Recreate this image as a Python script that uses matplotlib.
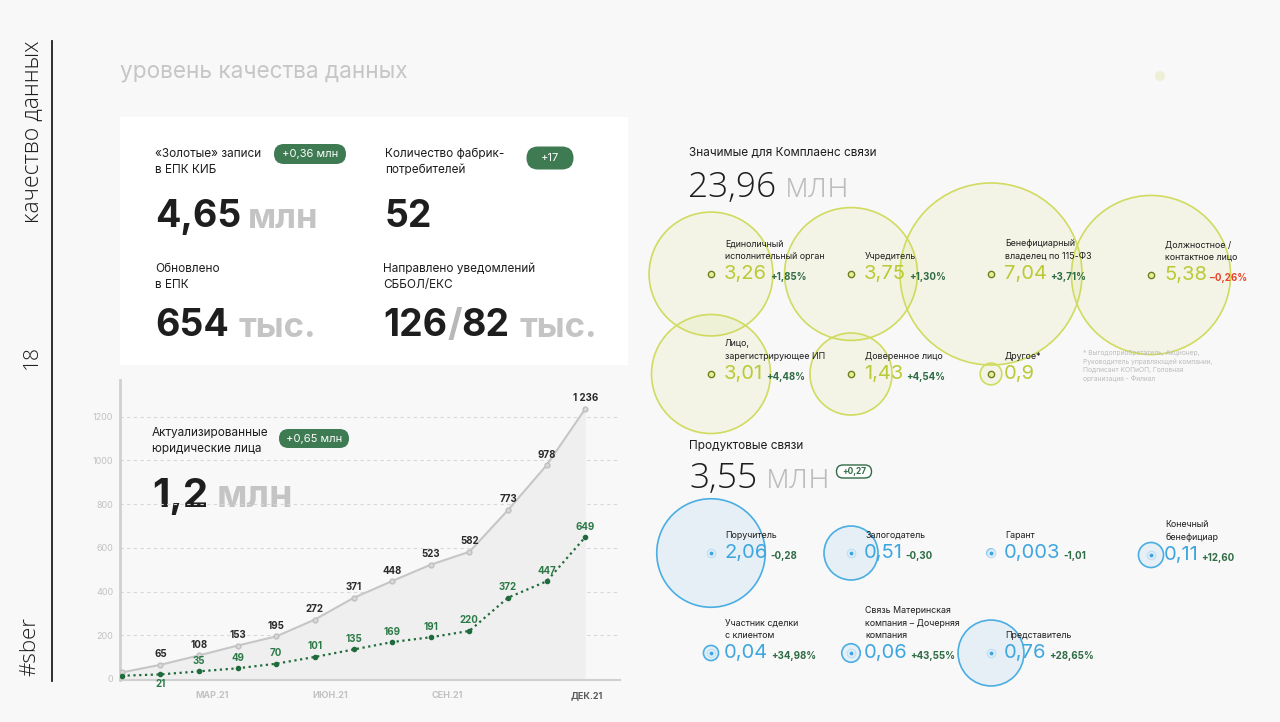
import numpy as np
import matplotlib
matplotlib.use('Agg')
import matplotlib.pyplot as plt
from matplotlib.patches import Circle, Rectangle, FancyBboxPatch

plt.rcParams['font.family'] = ['Inter', 'DejaVu Sans']
THIN = ['Open Sans', 'DejaVu Sans']

# --- data -------------------------------------------------------------
months = list(range(13))
total_legal = [30, 65, 108, 153, 195, 272, 371, 448, 523, 582, 773, 978, 1236]
dq_process = [15, 21, 35, 49, 70, 101, 135, 169, 191, 220, 372, 447, 649]
month_ticks = [2.34, 5.4, 8.43, 12.03]
month_labels = ['МАР.21', 'ИЮН.21', 'СЕН.21', 'ДЕК.21']

compl_labels = ['Единоличный\nисполнительный орган', 'Учредитель',
                'Бенефициарный\nвладелец по 115-ФЗ', 'Должностное /\nконтактное лицо',
                'Лицо,\nзарегистрирующее ИП', 'Доверенное лицо', 'Другое*']
compl_values = [3.26, 3.75, 7.04, 5.38, 3.01, 1.43, 0.9]
compl_sizes = [3.26, 3.75, 7.04, 5.38, 3.01, 1.43, 0.1]  # circle areas as drawn
compl_changes = ['+1,85%', '+1,30%', '+3,71%', '–0,26%', '+4,48%', '+4,54%', '']

prod_labels = ['Поручитель', 'Залогодатель', 'Гарант', 'Конечный\nбенефициар',
               'Участник сделки\nс клиентом', 'Связь Материнская\nкомпания – Дочерняя\nкомпания',
               'Представитель']
prod_values = [2.06, 0.51, 0.003, 0.11, 0.04, 0.06, 0.76]
prod_changes = ['-0,28', '-0,30', '-1,01', '+12,60', '+34,98%', '+43,55%', '+28,65%']

BG = '#f8f8f8'
DARK = '#1e1e1e'
GREY = '#c4c4c4'
GREEN = '#2f6b45'
PILL = '#3e7a52'
LIME_TXT = '#b9ca36'
BLUE_TXT = '#3ea6df'

fig = plt.figure(figsize=(12.8, 7.22), dpi=100, facecolor=BG)
ax0 = fig.add_axes([0, 0, 1, 1])
ax0.set_xlim(0, 1280)
ax0.set_ylim(722, 0)
ax0.axis('off')


def chain(prev, s, color, gap=4, size=27, weight='bold', family=None, dy=0, va='bottom', yfrac=0):
    return ax0.annotate(s, xy=(1, yfrac), xycoords=prev, xytext=(gap, dy), textcoords='offset points',
                        va=va, ha='left', fontsize=size, color=color, fontweight=weight,
                        family=family or plt.rcParams['font.family'])


def pill(cx, cy, w, h, text, size=7.5, filled=True):
    fc = PILL if filled else 'white'
    ec = 'none' if filled else GREEN
    ax0.add_patch(FancyBboxPatch((cx - w / 2, cy - h / 2), w, h, boxstyle=f'round,pad=0,rounding_size={h / 2}',
                                 fc=fc, ec=ec, lw=1, zorder=5))
    ax0.text(cx, cy, text, ha='center', va='center', fontsize=size, color='white' if filled else GREEN,
             fontweight='normal' if filled else 'bold', zorder=6)


# --- left side band ---------------------------------------------------
ax0.plot([52, 52], [41, 681], color=DARK, lw=1.3)
ax0.text(32, 132, 'качество данных', rotation=90, ha='center', va='center', fontsize=16.5,
         family=THIN, fontweight='light', color=DARK)
ax0.text(32, 357, '18', rotation=90, ha='center', va='center', fontsize=15, family=THIN,
         fontweight='light', color=DARK)
ax0.text(30, 647, '#sber', rotation=90, ha='center', va='center', fontsize=16, family=THIN,
         fontweight='light', color=DARK)

ax0.text(120, 72, 'уровень качества данных', ha='left', va='center', fontsize=16.3, color='#c6c6c6')
ax0.add_patch(Circle((1160, 76), 5, color='#eef0d6', lw=0))

# --- KPI card ---------------------------------------------------------
ax0.add_patch(Rectangle((120, 117), 508, 248, fc='white', ec='none'))
ax0.text(155, 162, '«Золотые» записи\nв ЕПК КИБ', ha='left', va='center', fontsize=8.5,
         color=DARK, linespacing=1.55)
pill(310, 154, 72, 20, '+0,36 млн', size=8)
t = ax0.text(155, 227, '4,65', ha='left', va='baseline', fontsize=27, fontweight='bold', color=DARK)
chain(t, 'млн', GREY, gap=5, size=25)

ax0.text(385, 162, 'Количество фабрик-\nпотребителей', ha='left', va='center', fontsize=8.5,
         color=DARK, linespacing=1.55)
pill(550, 158, 47, 23, '+17', size=8)
ax0.text(385, 227, '52', ha='left', va='baseline', fontsize=27, fontweight='bold', color=DARK)

ax0.text(155, 277, 'Обновлено\nв ЕПК', ha='left', va='center', fontsize=8.5, color=DARK, linespacing=1.55)
t = ax0.text(155, 336, '654', ha='left', va='baseline', fontsize=27, fontweight='bold', color=DARK)
chain(t, 'тыс.', GREY, gap=7, size=25)

ax0.text(383, 277, 'Направлено уведомлений\nСББОЛ/ЕКС', ha='left', va='center', fontsize=8.5,
         color=DARK, linespacing=1.55)
t = ax0.text(383, 336, '126', ha='left', va='baseline', fontsize=27, fontweight='bold', color=DARK)
t = chain(t, '/', '#b8b8b8', gap=0)
t = chain(t, '82', DARK, gap=0)
chain(t, 'тыс.', GREY, gap=7, size=25)

# --- line chart -------------------------------------------------------
L, R, B, T = 120.3, 620, 680, 380
ax = fig.add_axes([L / 1280, (722 - B) / 722, (R - L) / 1280, (B - T) / 722])
ax.patch.set_alpha(0)
ax.set_xlim(-0.04, 12.9)
ax.set_ylim(-4.6, 1368)
ax.fill_between(months, total_legal, 0, color='#efefef', lw=0, zorder=1)
ax.plot(months, total_legal, color='#c6c6c6', lw=1.5, marker='o', ms=3.5, mfc='#d8d8d8',
        mec='#c0c0c0', zorder=3)
ax.plot(months, dq_process, color='#1f6b3c', lw=1.6, ls=(0, (1, 1.6)), marker='o', ms=3,
        mfc='#1f6b3c', mec='#1f6b3c', zorder=4)
for i, v in enumerate(total_legal[1:], start=1):
    ax.annotate(f'{v:,}'.replace(',', ' '), (i, v), xytext=(0, 4), textcoords='offset points',
                ha='center', va='bottom', fontsize=7, fontweight='bold', color='#2a2a2a')
for i, v in enumerate(dq_process[1:], start=1):
    below = i == 1
    ax.annotate(str(v), (i, v), xytext=(0, -3 if below else 4), textcoords='offset points',
                ha='center', va='top' if below else 'bottom', fontsize=7, fontweight='bold',
                color='#2d7a48')
ax.set_yticks(range(0, 1201, 200))
ax.yaxis.grid(True, ls=(0, (3, 3)), color='#d8d8d8', lw=0.8)
ax.set_axisbelow(True)
ax.tick_params(length=0, labelsize=6.5, labelcolor='#c2c2c2')
ax.tick_params(axis='y', pad=5)
ax.tick_params(axis='x', pad=8)
ax.set_xticks(month_ticks)
ax.set_xticklabels(month_labels, fontweight='bold')
ax.get_xticklabels()[-1].set_color('#5a5a5a')
for s in ['top', 'right']:
    ax.spines[s].set_visible(False)
ax.spines['left'].set_color('#d0d0d0')
ax.spines['left'].set_linewidth(2)
ax.spines['bottom'].set_color('#d0d0d0')
ax.spines['bottom'].set_linewidth(1.5)

ax0.text(152, 441, 'Актуализированные\nюридические лица', ha='left', va='center', fontsize=8.5,
         color=DARK, linespacing=1.55)
pill(314, 438.5, 70, 19, '+0,65 млн', size=8)
t = ax0.text(152, 507, '1,2', ha='left', va='baseline', fontsize=29, fontweight='bold', color=DARK)
chain(t, 'млн', GREY, gap=6, size=27)
ax0.text(579, 619, 'процессами\nконтроля\nкачества данных', ha='right', va='center', fontsize=6.5,
         color='#2d7a48', linespacing=1.35)

# --- bubbles ----------------------------------------------------------
cols = [711, 851, 991, 1151]
compl_pos = [(cols[0], 274), (cols[1], 274), (cols[2], 274), (cols[3], 275),
             (cols[0], 374), (cols[1], 374), (cols[2], 374)]
prod_pos = [(cols[0], 553), (cols[1], 553), (cols[2], 553), (cols[3], 555),
            (cols[0], 653), (cols[1], 653), (cols[2], 653)]


def fmt(v):
    return str(v).replace('.', ',')


def bubbles(pos, labels, values, sizes, changes, k, edge, face, vcol, red_neg, blue):
    for (x, y), s in zip(pos, sizes):
        r = max(k * np.sqrt(s), 4)
        ax0.add_patch(Circle((x, y), r, fc=face, ec=edge, lw=1.2, zorder=2))
    for (x, y), lab, v, ch in zip(pos, labels, values, changes):
        if blue:
            ax0.plot(x, y, 'o', ms=6, mfc='#e4f1fb', mec='#c3e0f3', mew=1, zorder=3)
            ax0.plot(x, y, 'o', ms=1.8, color=BLUE_TXT, zorder=4)
        else:
            ax0.plot(x, y, 'o', ms=4.5, mfc='#e8ef9c', mec='#6f7f20', mew=1, zorder=3)
        ax0.text(x + 14, y - 13, lab, ha='left', va='bottom', fontsize=6.4, color=DARK,
                 linespacing=1.5, zorder=5)
        t = ax0.text(x + 13, y, fmt(v), ha='left', va='center', fontsize=14.5, color=vcol, zorder=5)
        if ch:
            c = '#e8452c' if (red_neg and ch[0] in '-–') else GREEN
            chain(t, ch, c, gap=2, size=7, dy=-2, va='center', yfrac=0.5)


ax0.text(689, 153, 'Значимые для Комплаенс связи', ha='left', va='center', fontsize=8.5, color=DARK)
t = ax0.text(688, 197, '23,96', ha='left', va='baseline', fontsize=25.5, family=THIN,
             fontweight='light', color=DARK)
chain(t, 'млн', '#bdbdbd', gap=6, size=25.5, weight='light', family=THIN)
bubbles(compl_pos, compl_labels, compl_values, compl_sizes, compl_changes, 34.3,
        '#d0db5f', (0.80, 0.85, 0.30, 0.10), LIME_TXT, True, False)
ax0.text(1083, 350, '* Выгодоприобретатель, Акционер,\nРуководитель управляющей компании,\n'
         'Подписант КОПиОП, Головная\nорганизация - Филиал', ha='left', va='top', fontsize=4.8,
         color='#bdbdbd', linespacing=1.4)

ax0.text(689, 446, 'Продуктовые связи', ha='left', va='center', fontsize=8.5, color=DARK)
t = ax0.text(689, 488, '3,55', ha='left', va='baseline', fontsize=25.5, family=THIN,
             fontweight='light', color=DARK)
chain(t, 'млн', '#bdbdbd', gap=6, size=25.5, weight='light', family=THIN)
pill(854, 471.5, 35, 13, '+0,27', size=6, filled=False)
bubbles(prod_pos, prod_labels, prod_values, prod_values, prod_changes, 37.8,
        '#4aaee3', (0.29, 0.64, 0.88, 0.10), BLUE_TXT, False, True)

fig.savefig('out.png', dpi=100, facecolor=BG)
